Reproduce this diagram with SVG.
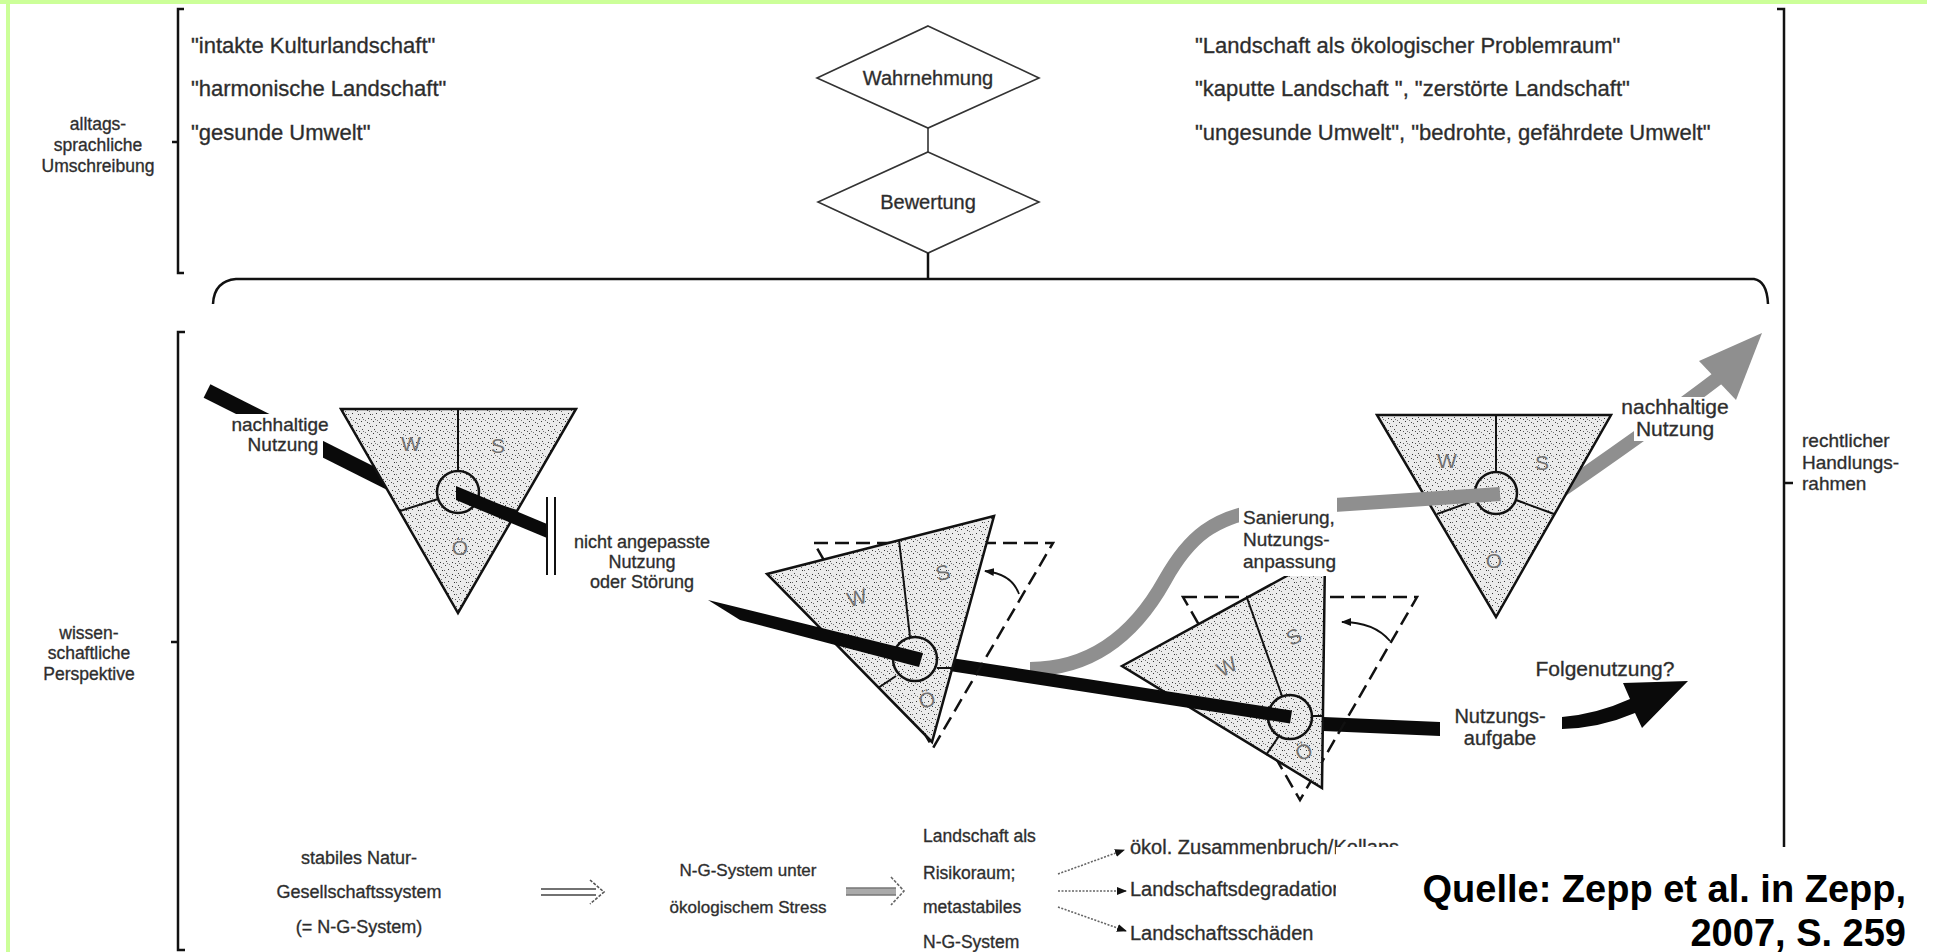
<svg xmlns="http://www.w3.org/2000/svg" width="1933" height="952" viewBox="0 0 1933 952">
<defs>
<pattern id="stip" width="12" height="12" patternUnits="userSpaceOnUse">
<rect width="12" height="12" fill="#ebebeb"/>
<rect x="1" y="1" width="1" height="1" fill="#333"/>
<rect x="7" y="2" width="1" height="1" fill="#444"/>
<rect x="4" y="5" width="1" height="1" fill="#333"/>
<rect x="10" y="6" width="1" height="1" fill="#333"/>
<rect x="2" y="9" width="1" height="1" fill="#444"/>
<rect x="8" y="10" width="1" height="1" fill="#333"/>
<rect x="5" y="0" width="1" height="1" fill="#777"/>
<rect x="0" y="6" width="1" height="1" fill="#666"/>
<rect x="11" y="11" width="1" height="1" fill="#555"/>
<rect x="9" y="3" width="1" height="1" fill="#666"/>
<rect x="3" y="11" width="1" height="1" fill="#777"/>
</pattern>
<marker id="ah" viewBox="0 0 10 8" refX="9" refY="4" markerWidth="10" markerHeight="8" markerUnits="userSpaceOnUse" orient="auto">
<path d="M0,0 L10,4 L0,8 Z" fill="#111"/>
</marker>
<style>
.t{font-family:"Liberation Sans",Arial,Helvetica,sans-serif;fill:#2b2b2b;stroke:#3a3a3a;stroke-width:0.35;font-size:21px}
.q{font-size:22px}
.side{font-size:17.5px}
.f18{font-size:18px}
.f19{font-size:19px}
.f20{font-size:20px}
.m{text-anchor:middle}
.lbl{font-family:"Liberation Sans",Arial,sans-serif;font-size:21px;fill:#727272;text-anchor:middle}
.ln{fill:none;stroke:#111;stroke-width:2.5}
.tri{fill:url(#stip);stroke:#111;stroke-width:2.5}
.div{fill:none;stroke:#111;stroke-width:2}
.circ{fill:url(#stip);stroke:#111;stroke-width:2.5}
.dash{fill:none;stroke:#111;stroke-width:2.5;stroke-dasharray:14 7}
.dia{fill:#fff;stroke:#333;stroke-width:1.6}
.blk{fill:#0a0a0a}
.gry{fill:#8f8f8f}
.gs{fill:none;stroke:#8f8f8f;stroke-width:14}
.bs{fill:none;stroke:#0a0a0a;stroke-width:13}
.bg{fill:#fff}
.thin{fill:none;stroke:#111;stroke-width:1.8}
.sm{fill:none;stroke:#666;stroke-width:1.6;stroke-dasharray:2 1.5}
.src{font-family:"Liberation Sans",Arial,sans-serif;font-weight:bold;font-size:38px;fill:#000;text-anchor:end}
</style>
</defs>
<rect x="0" y="0" width="1933" height="952" fill="#fff"/>
<g id="frame">
<rect x="0" y="0" width="1927" height="4" fill="#ccff99"/>
<rect x="6" y="0" width="4" height="952" fill="#ccff99"/>
</g>

<g id="bracket-alltag">
<path class="ln" d="M184,9 H178 V273 H184 M178,142 H172"/>
<text class="t side m" x="98" y="130">alltags-</text>
<text class="t side m" x="98" y="151">sprachliche</text>
<text class="t side m" x="98" y="172">Umschreibung</text>
</g>
<g id="quotes-left">
<text class="t q" x="191" y="53">"intakte Kulturlandschaft"</text>
<text class="t q" x="191" y="96">"harmonische Landschaft"</text>
<text class="t q" x="191" y="140">"gesunde Umwelt"</text>
</g>
<g id="quotes-right">
<text class="t q" x="1195" y="53">"Landschaft als ökologischer Problemraum"</text>
<text class="t q" x="1195" y="96">"kaputte Landschaft ", "zerstörte Landschaft"</text>
<text class="t q" x="1195" y="140">"ungesunde Umwelt", "bedrohte, gefährdete Umwelt"</text>
</g>
<g id="node-wahrnehmung">
<polygon class="dia" points="928,26 1039,78 928,128 817,78"/>
<text class="t f20 m" x="928" y="85">Wahrnehmung</text>
</g>
<g id="node-bewertung">
<polygon class="dia" points="928,152 1039,202 928,253 818,202"/>
<text class="t f20 m" x="928" y="209">Bewertung</text>
</g>
<g id="bracket-wissen">
<path class="ln" d="M185,332 H178 V950 H185 M178,642 H171"/>
<text class="t side m" x="89" y="639">wissen-</text>
<text class="t side m" x="89" y="659">schaftliche</text>
<text class="t side m" x="89" y="680">Perspektive</text>
</g>
<g id="bracket-recht">
<path class="ln" d="M1777,9 H1784 V850 M1784,483 H1793"/>
<text class="t f19" x="1802" y="447">rechtlicher</text>
<text class="t f19" x="1802" y="469">Handlungs-</text>
<text class="t f19" x="1802" y="490">rahmen</text>
</g>

<g id="connectors-top">
<path d="M928,128 V152" fill="none" stroke="#333" stroke-width="1.6"/>
<path class="ln" d="M928,253 V279"/>
<path class="ln" d="M213,304 Q214,281 236,279 H1754 Q1767,281 1768,304"/>
</g>

<g id="flows-under">
<line class="bs" style="stroke-width:15" x1="207" y1="391" x2="430" y2="503"/>
<polygon class="blk" points="1300,716 1440,722 1440,736 1300,730"/>
<path class="gs" d="M1530,512 Q1650,430 1722,375"/>
</g>

<g id="node-T1">
<polygon class="tri" points="341,409 576,409 458,613"/>
<line class="div" x1="458" y1="409" x2="458" y2="471"/>
<line class="div" x1="438" y1="499" x2="400" y2="511"/>
<line class="div" x1="478" y1="499" x2="517" y2="511"/>
<circle class="circ" cx="458" cy="492" r="21"/>
<text class="lbl" x="411" y="451">W</text>
<text class="lbl" x="498" y="453">S</text>
<text class="lbl" x="460" y="555">Ö</text>
</g>
<g id="node-T3">
<polygon class="dash" points="1183,597 1417,597 1300,800"/>
<polygon class="tri" points="1122,666 1325,555 1322,788"/>
<line class="div" x1="1247" y1="598" x2="1282" y2="696"/>
<line class="div" x1="1312" y1="716" x2="1323" y2="716"/>
<line class="div" x1="1279" y1="736" x2="1266" y2="755"/>
<circle class="circ" cx="1290" cy="717" r="22"/>
<text class="lbl" transform="rotate(-28 1227 667)" x="1227" y="674">W</text>
<text class="lbl" transform="rotate(-28 1294 637)" x="1294" y="644">S</text>
<text class="lbl" transform="rotate(-28 1304 752)" x="1304" y="759">Ö</text>
<path class="thin" d="M1390,641 Q1374,622 1342,622" marker-end="url(#ah)"/>
</g>
<g id="node-T4">
<polygon class="tri" points="1377,415 1611,415 1496,617"/>
<line class="div" x1="1496" y1="415" x2="1496" y2="472"/>
<line class="div" x1="1476" y1="500" x2="1437" y2="514"/>
<line class="div" x1="1516" y1="500" x2="1554" y2="514"/>
<circle class="circ" cx="1496" cy="493" r="21"/>
<text class="lbl" x="1447" y="468">W</text>
<text class="lbl" x="1542" y="470">S</text>
<text class="lbl" x="1494" y="568">Ö</text>
</g>

<g id="flows-mid">
<path class="gs" d="M1030,669 C1100,669 1140,625 1165,580 C1190,535 1215,518 1260,510 L1500,494"/>
<line class="bs" x1="921" y1="660" x2="1291" y2="717"/>
<polygon class="blk" points="456,486 547,524 547,538 456,500"/>
</g>

<g id="node-T2">
<polygon class="dash" points="814,543 1053,543 933,748"/>
<polygon class="tri" points="767,574 994,516 932,742"/>
<line class="div" x1="899" y1="540" x2="910" y2="637"/>
<line class="div" x1="937" y1="668" x2="952" y2="668"/>
<line class="div" x1="896" y1="676" x2="878" y2="688"/>
<circle class="circ" cx="915" cy="659" r="22"/>
<text class="lbl" transform="rotate(-15 857 598)" x="857" y="605">W</text>
<text class="lbl" transform="rotate(-15 943 573)" x="943" y="580">S</text>
<text class="lbl" transform="rotate(-15 927 700)" x="927" y="707">Ö</text>
<path class="thin" d="M1019,594 Q1012,574 985,571" marker-end="url(#ah)"/>
</g>

<g id="flows-over">
<polygon class="blk" points="708,600 923,653 919,667 740,620"/>
<path class="blk" d="M1562,717 Q1597,714 1630,699 L1623,683 L1688,681 L1642,728 L1635,713 Q1600,728 1562,729 Z"/>
<polygon class="gry" points="1762,333 1699,361 1736,400"/>
<path class="div" d="M547,497 V575 M555,497 V575"/>
</g>

<g id="label-nachhaltig-1">
<rect class="bg" x="228" y="414" width="110" height="24"/>
<rect class="bg" x="243" y="438" width="80" height="20"/>
<text class="t f19 m" x="280" y="431">nachhaltige</text>
<text class="t f19 m" x="283" y="451">Nutzung</text>
</g>
<g id="label-nicht-angepasst">
<text class="t f18 m" x="642" y="548">nicht angepasste</text>
<text class="t f18 m" x="642" y="568">Nutzung</text>
<text class="t f18 m" x="642" y="588">oder Störung</text>
</g>
<g id="label-sanierung">
<rect class="bg" x="1239" y="494" width="98" height="82"/>
<text class="t f19" x="1243" y="524">Sanierung,</text>
<text class="t f19" x="1243" y="546">Nutzungs-</text>
<text class="t f19" x="1243" y="568">anpassung</text>
</g>
<g id="label-nachhaltig-2">
<rect class="bg" x="1617" y="397" width="116" height="23"/>
<rect class="bg" x="1634" y="420" width="82" height="21"/>
<text class="t m" x="1675" y="414">nachhaltige</text>
<text class="t m" x="1675" y="436">Nutzung</text>
</g>
<g id="label-aufgabe">
<text class="t f20 m" x="1500" y="723">Nutzungs-</text>
<text class="t f20 m" x="1500" y="745">aufgabe</text>
</g>
<g id="label-folge">
<text class="t m" x="1605" y="676">Folgenutzung?</text>
</g>

<g id="node-stabil">
<text class="t f18 m" x="359" y="864">stabiles Natur-</text>
<text class="t f18 m" x="359" y="898">Gesellschaftssystem</text>
<text class="t f18 m" x="359" y="933">(= N-G-System)</text>
</g>
<g id="node-stress">
<text class="t m" style="font-size:17px" x="748" y="876">N-G-System unter</text>
<text class="t m" style="font-size:17px" x="748" y="913">ökologischem Stress</text>
</g>
<g id="node-risiko">
<text class="t side" x="923" y="842">Landschaft als</text>
<text class="t side" x="923" y="879">Risikoraum;</text>
<text class="t side" x="923" y="913">metastabiles</text>
<text class="t side" x="923" y="948">N-G-System</text>
</g>
<g id="connectors-bottom">
<path d="M541,889 H596 M541,895 H596" fill="none" stroke="#444" stroke-width="1.6"/>
<path d="M590,880 L604,892 L590,904" fill="none" stroke="#555" stroke-width="1.6" stroke-dasharray="3 1.5"/>
<rect x="846" y="888" width="50" height="7" fill="#aaa"/>
<path d="M846,888 H896 M846,895 H896" fill="none" stroke="#777" stroke-width="1.4"/>
<path d="M891,877 L904,891 L891,905" fill="none" stroke="#666" stroke-width="1.6" stroke-dasharray="3 1.5"/>
<path class="sm" d="M1058,874 L1124,850" marker-end="url(#ah)"/>
<path class="sm" d="M1058,891 L1126,891" marker-end="url(#ah)"/>
<path class="sm" d="M1058,907 L1126,931" marker-end="url(#ah)"/>
</g>
<g id="node-folgen">
<text class="t f20" x="1130" y="854">ökol. Zusammenbruch/Kollaps</text>
<text class="t f20" x="1130" y="896">Landschaftsdegradation</text>
<text class="t f20" x="1130" y="940">Landschaftsschäden</text>
</g>
<g id="source">
<rect class="bg" x="1336" y="847" width="597" height="105"/>
<text class="src" x="1906" y="902">Quelle: Zepp et al. in Zepp,</text>
<text class="src" x="1906" y="946">2007, S. 259</text>
</g>
</svg>
